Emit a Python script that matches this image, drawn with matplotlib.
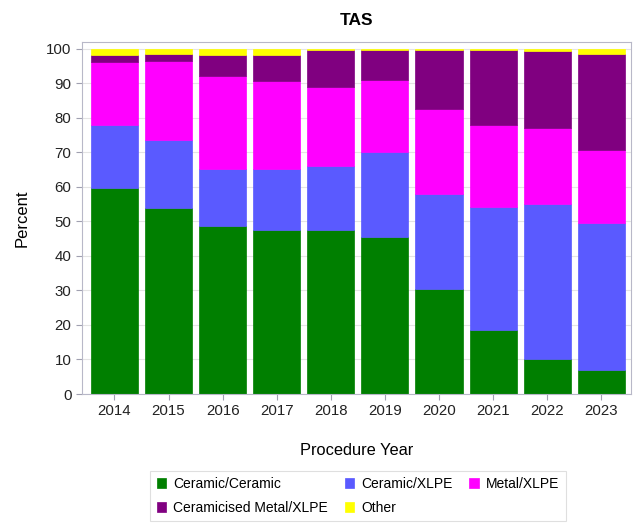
import matplotlib
matplotlib.use("Agg")
import matplotlib.pyplot as plt
import numpy as np

plt.rcParams['font.family'] = ['Liberation Sans', 'DejaVu Sans']

years = ["2014", "2015", "2016", "2017", "2018", "2019", "2020", "2021", "2022", "2023"]
series_names = ["Ceramic/Ceramic", "Ceramic/XLPE", "Metal/XLPE", "Ceramicised Metal/XLPE", "Other"]
ceramic_ceramic = [59.7, 53.8, 48.5, 47.5, 47.5, 45.5, 30.5, 18.5, 10.0, 7.0]
ceramic_xlpe = [18.3, 19.7, 16.5, 17.5, 18.5, 24.5, 27.5, 35.5, 45.0, 42.5]
metal_xlpe = [18.0, 23.0, 27.0, 25.5, 23.0, 21.0, 24.5, 24.0, 22.0, 21.0]
ceramicised_metal_xlpe = [2.0, 2.0, 6.0, 7.5, 10.5, 8.5, 17.0, 21.5, 22.3, 28.0]
other = [2.0, 1.5, 2.0, 2.0, 0.5, 0.5, 0.5, 0.5, 0.7, 1.5]

colors = ["#007F00", "#5A5AFF", "#FF00FF", "#800080", "#FFFF00"]

fig = plt.figure(figsize=(6.36, 5.25), dpi=100)
ax = fig.add_axes([82/636, 1 - 394/525, (631-82)/636, (394-42)/525])

x = np.arange(len(years))
data = [ceramic_ceramic, ceramic_xlpe, metal_xlpe, ceramicised_metal_xlpe, other]
bottom = np.zeros(len(years))
handles = []
for vals, c, name in zip(data, colors, series_names):
    b = ax.bar(x, vals, bottom=bottom, width=0.87, color=c, edgecolor=c,
               linewidth=0.5, label=name, zorder=2)
    handles.append(b)
    bottom += np.array(vals)

ax.set_xlim(-0.6, 9.55)
ax.set_ylim(0, 101.9)
ax.set_yticks(np.arange(0, 101, 10))
ax.set_xticks(x)
ax.set_xticklabels(years)
ax.yaxis.grid(True, color="#E4E4E4", linewidth=0.8, zorder=0)
ax.set_axisbelow(True)
for s in ax.spines.values():
    s.set_color("#B8B8C8")
    s.set_linewidth(0.8)
ax.tick_params(axis='both', labelsize=10.8, length=4, width=0.8, colors="#222222")
ax.tick_params(axis='both', color="#A0A0B0")

ax.set_title("TAS", fontsize=12.5, fontweight="bold", pad=12)
ax.set_ylabel("Percent", fontsize=12, labelpad=12)
ax.set_xlabel("Procedure Year", fontsize=11.8, labelpad=18)

order = [0, 3, 1, 4, 2]
leg = fig.legend([handles[i] for i in order], [series_names[i] for i in order],
                 ncol=3, loc="center", bbox_to_anchor=(358/636, 1 - 496/525),
                 prop={'size': 10}, frameon=True, fancybox=False, edgecolor="#D8D8D8",
                 handlelength=0.7, handleheight=0.7, columnspacing=1.2,
                 handletextpad=0.5, borderpad=0.45, labelspacing=0.75)
leg.get_frame().set_linewidth(0.8)

fig.savefig("out.png", dpi=100)
